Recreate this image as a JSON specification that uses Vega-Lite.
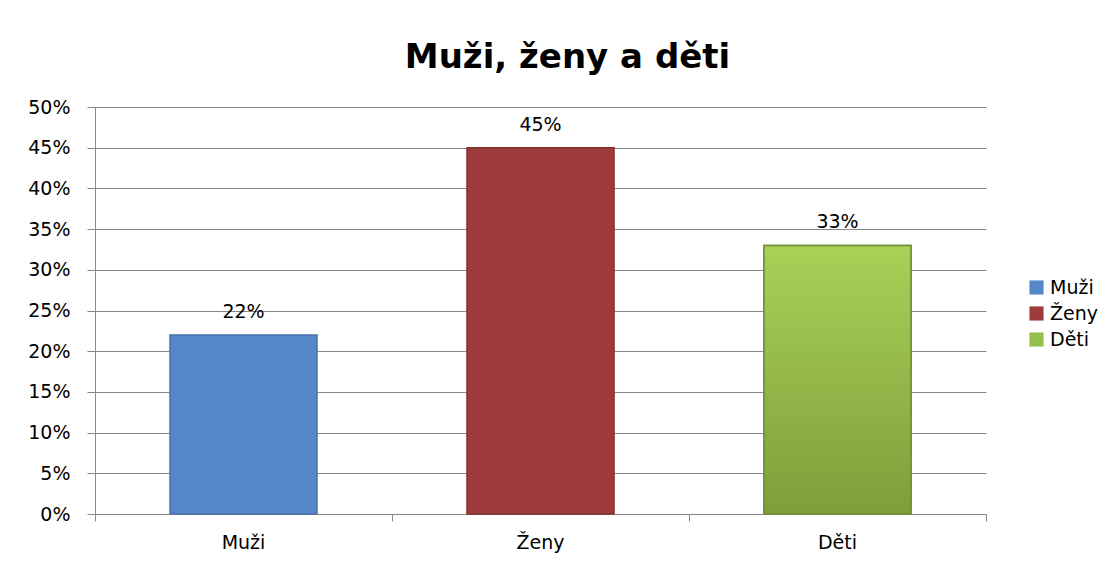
{
  "$schema": "https://vega.github.io/schema/vega-lite/v6.json",
  "width": 891,
  "height": 407,
  "autosize": {"type": "none"},
  "padding": {"left": 95, "top": 107, "right": 129, "bottom": 50},
  "background": "white",
  "title": {
    "text": "Muži, ženy a děti",
    "font": "DejaVu Sans",
    "fontSize": 34,
    "fontWeight": "bold",
    "color": "#000000",
    "anchor": "middle",
    "dx": 27,
    "offset": 23
  },
  "config": {
    "view": {"stroke": null}
  },
  "data": {
    "values": [
      {"kategorie": "Muži", "podil": 0.22},
      {"kategorie": "Ženy", "podil": 0.45},
      {"kategorie": "Děti", "podil": 0.33}
    ]
  },
  "encoding": {
    "x": {
      "field": "kategorie",
      "type": "nominal",
      "sort": null,
      "scale": {"paddingInner": 0, "paddingOuter": 0},
      "axis": {
        "title": null,
        "labelAngle": 0,
        "bandPosition": 1,
        "tickExtra": true,
        "tickSize": 7,
        "tickColor": "#888888",
        "domainColor": "#888888",
        "labelPadding": 12,
        "labelFont": "DejaVu Sans",
        "labelFontSize": 19,
        "labelColor": "#000000",
        "grid": false
      }
    },
    "y": {
      "field": "podil",
      "type": "quantitative",
      "scale": {"domain": [0, 0.5]},
      "axis": {
        "title": null,
        "values": [0, 0.05, 0.1, 0.15, 0.2, 0.25, 0.3, 0.35, 0.4, 0.45, 0.5],
        "format": ".0%",
        "grid": true,
        "gridColor": "#888888",
        "domainColor": "#888888",
        "tickColor": "#888888",
        "tickSize": 8,
        "labelPadding": 17,
        "labelFont": "DejaVu Sans",
        "labelFontSize": 19,
        "labelColor": "#000000"
      }
    }
  },
  "layer": [
    {
      "mark": {"type": "bar", "width": {"band": 0.495}, "strokeWidth": 1.5},
      "encoding": {
        "color": {
          "field": "kategorie",
          "type": "nominal",
          "sort": null,
          "scale": {
            "domain": ["Muži", "Ženy", "Děti"],
            "range": ["#5588C8", "#9E3C3B", "#96BE4A"]
          },
          "legend": {
            "title": null,
            "orient": "none",
            "legendX": 932,
            "legendY": 171,
            "symbolType": "square",
            "symbolSize": 200,
            "symbolStrokeWidth": 0,
            "labelFont": "DejaVu Sans",
            "labelFontSize": 19,
            "labelColor": "#000000",
            "rowPadding": 6,
            "labelOffset": 4
          }
        },
        "stroke": {
          "field": "kategorie",
          "type": "nominal",
          "sort": null,
          "scale": {
            "domain": ["Muži", "Ženy", "Děti"],
            "range": ["#4673AD", "#832F2E", "#6F8D34"]
          },
          "legend": null
        }
      }
    },
    {
      "transform": [{"filter": "datum.kategorie === 'Děti'"}],
      "mark": {
        "type": "bar",
        "width": {"band": 0.495},
        "stroke": "#6F8D34",
        "strokeWidth": 1.5,
        "fill": {
          "gradient": "linear",
          "x1": 0, "y1": 0, "x2": 0, "y2": 1,
          "stops": [
            {"offset": 0, "color": "#A8D157"},
            {"offset": 1, "color": "#7E9E3B"}
          ]
        }
      }
    },
    {
      "mark": {
        "type": "text",
        "dy": -17,
        "baseline": "alphabetic",
        "font": "DejaVu Sans",
        "fontSize": 19,
        "color": "#000000"
      },
      "encoding": {
        "text": {"field": "podil", "type": "quantitative", "format": ".0%"}
      }
    }
  ]
}
